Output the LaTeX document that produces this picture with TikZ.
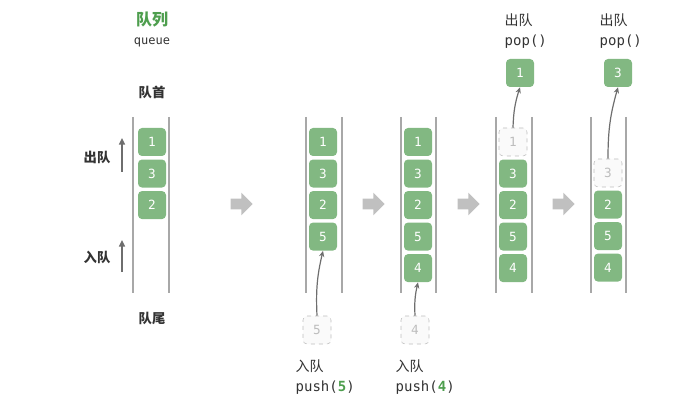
\documentclass[tikz,border=0pt]{standalone}
\usepackage{fontspec}
\setmainfont{Noto Sans CJK SC}
\newfontfamily\codefont{DejaVu Sans Mono}
\usetikzlibrary{arrows.meta,positioning,shapes.arrows}
\definecolor{qgreen}{HTML}{82B882}
\definecolor{qtitle}{HTML}{4E9E4E}
\definecolor{qwall}{HTML}{A8A8A8}
\definecolor{qghost}{HTML}{BDBDBD}
\definecolor{qstep}{HTML}{C0C0C0}
\definecolor{qline}{HTML}{6E6E6E}
\definecolor{qtext}{HTML}{333333}

\begin{document}
\begin{tikzpicture}[x=0.75pt, y=-0.75pt,
    item/.style={rectangle, fill=qgreen, rounded corners=3pt, minimum width=21pt,
                 minimum height=21pt, inner sep=0pt, text=white,
                 font=\codefont\fontsize{9.5}{11}\selectfont},
    ghost/.style={item, fill=gray!4, draw=qghost, dashed, text=qghost},
    wall/.style={qwall, line width=1pt},
    nextstep/.style={single arrow, fill=qstep, draw=none, inner xsep=0pt, inner ysep=3.75pt,
                     minimum height=16.5pt, single arrow head extend=4.5pt},
    link/.style={-{Stealth[length=4.5pt, width=4pt]}, qline, line width=0.9pt},
    dir/.style={-{Triangle[length=5pt, width=4.5pt]}, qline, line width=1.1pt},
    tag/.style={font=\fontsize{10}{12}\selectfont\bfseries, text=qtext},
    op/.style={font=\fontsize{10.5}{15}\selectfont, text=qtext, align=left, anchor=west}
]
\useasboundingbox (0,0) rectangle (700,406);

% title and labels
\node[font=\fontsize{12}{14}\selectfont\bfseries, text=qtitle] (title) at (152,20) {队列};
\node[font=\codefont\fontsize{9}{11}\selectfont, text=qtext] (sub) at (152,42) {queue};
\node[tag] (head) at (152,92) {队首};
\node[tag] (tail) at (152,318) {队尾};
\node[tag] (deq) at (97,157) {出队};
\node[tag] (enq) at (97,257) {入队};
\coordinate (deqa) at (122,172);
\coordinate (deqb) at (122,138);
\coordinate (enqa) at (122,272);
\coordinate (enqb) at (122,240);
\draw[dir] (deqa) -- (deqb);
\draw[dir] (enqa) -- (enqb);

% tubes
\draw[wall] (133,117) -- (133,293);
\draw[wall] (169,117) -- (169,293);
\draw[wall] (306,117) -- (306,293);
\draw[wall] (342,117) -- (342,293);
\draw[wall] (401,117) -- (401,293);
\draw[wall] (436,117) -- (436,293);
\draw[wall] (496,117) -- (496,293);
\draw[wall] (532,117) -- (532,293);
\draw[wall] (591,117) -- (591,293);
\draw[wall] (626,117) -- (626,293);

% steps
\node[nextstep] (s1) at (239,204) {};
\node[nextstep] (s2) at (371,204) {};
\node[nextstep] (s3) at (466,204) {};
\node[nextstep] (s4) at (561,204) {};

% queue 1
\node[item] (a1) at (152,142) {1};
\node[item, below=2.25pt of a1] (a3) {3};
\node[item, below=2.25pt of a3] (a2) {2};

% queue 2: push(5)
\node[item] (b1) at (323,142) {1};
\node[item, below=2.25pt of b1] (b3) {3};
\node[item, below=2.25pt of b3] (b2) {2};
\node[item, below=2.25pt of b2] (b5) {5};
\node[ghost] (b5in) at (317,330) {5};
\draw[link] (b5in.north) to[bend left=8] (b5.south);
\node[op] (pushb) at (291,377) {入队\\{\codefont push(\textcolor{qtitle}{\bfseries 5})}};

% queue 3: push(4)
\node[item] (c1) at (418,142) {1};
\node[item, below=2.25pt of c1] (c3) {3};
\node[item, below=2.25pt of c3] (c2) {2};
\node[item, below=2.25pt of c2] (c5) {5};
\node[item, below=2.25pt of c5] (c4) {4};
\node[ghost] (c4in) at (415,330) {4};
\draw[link] (c4in.north) to[bend left=8] (c4.south);
\node[op] (pushc) at (391,377) {入队\\{\codefont push(\textcolor{qtitle}{\bfseries 4})}};

% queue 4: pop()
\node[ghost] (d1) at (513,142) {1};
\node[item, below=2.25pt of d1] (d3) {3};
\node[item, below=2.25pt of d3] (d2) {2};
\node[item, below=2.25pt of d2] (d5) {5};
\node[item, below=2.25pt of d5] (d4) {4};
\node[item] (d1out) at (520,73) {1};
\draw[link] (d1.north) to[bend left=8] (d1out.south);
\node[op] (popd) at (500,31) {出队\\{\codefont pop()}};

% queue 5: pop()
\node[ghost] (e3) at (608,173) {3};
\node[item, below=2.25pt of e3] (e2) {2};
\node[item, below=2.25pt of e2] (e5) {5};
\node[item, below=2.25pt of e5] (e4) {4};
\node[item] (e3out) at (618,73) {3};
\draw[link] (e3.north) to[bend left=8] (e3out.south);
\node[op] (pope) at (595,31) {出队\\{\codefont pop()}};
\end{tikzpicture}
\end{document}
